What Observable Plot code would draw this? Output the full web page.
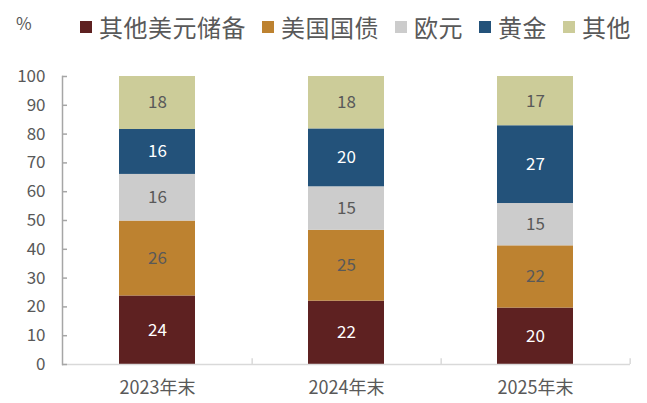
<!DOCTYPE html>
<html>
<head>
<meta charset="utf-8">
<script src="https://cdn.jsdelivr.net/npm/d3@7"></script>
<script src="https://cdn.jsdelivr.net/npm/@observablehq/plot@0.6"></script>
<style>
  html, body { margin: 0; padding: 0; background: #fff; }
  body { width: 647px; height: 403px; overflow: hidden; font-family: "Noto Sans CJK SC", "Noto Sans", sans-serif; }
  #head { position: relative; height: 45px; }
  #pct { position: absolute; left: 16px; top: 10px; font-size: 17px; color: #595959; }
  #legend { position: absolute; left: 80px; top: 12px; display: flex; align-items: center; color: #595959; font-size: 24px; line-height: 30px; }
  .item { display: flex; align-items: center; margin-right: 16px; }
  .sw { width: 12px; height: 12px; margin-right: 7px; }
</style>
</head>
<body>
<div id="head"><div id="pct">%</div><div id="legend"></div></div>
<div id="chart"></div>
<script>
const categories = ["2023年末", "2024年末", "2025年末"];
const seriesNames = ["其他美元储备", "美国国债", "欧元", "黄金", "其他"];
const seriesColors = ["#5E2121", "#BD8230", "#CCCCCC", "#23527A", "#CCCC99"];
const otherUSD = [23.8, 22.0, 19.6];
const usTreasury = [26.0, 24.6, 21.6];
const euro = [16.2, 15.1, 14.7];
const gold = [15.6, 20.1, 27.0];
const others = [18.4, 18.2, 17.1];
const yTicks = [0, 10, 20, 30, 40, 50, 60, 70, 80, 90, 100];
const darkSeries = ["其他美元储备", "黄金"];

const seriesValues = [otherUSD, usTreasury, euro, gold, others];
const data = [];
categories.forEach((c, i) => {
  seriesNames.forEach((s, j) => data.push({year: c, series: s, value: seriesValues[j][i]}));
});

const legend = document.getElementById("legend");
seriesNames.forEach((s, j) => {
  const it = document.createElement("div");
  it.className = "item";
  const sw = document.createElement("div");
  sw.className = "sw";
  sw.style.background = seriesColors[j];
  const t = document.createElement("span");
  t.textContent = s;
  t.style.letterSpacing = "0.5px";
  it.appendChild(sw); it.appendChild(t);
  legend.appendChild(it);
});

const W = 647, H = 358, mL = 62, mR = 17;
const step = (W - mL - mR) / categories.length;
const chart = Plot.plot({
  width: W,
  height: H,
  marginTop: 31,
  marginBottom: 39,
  marginLeft: mL,
  marginRight: mR,
  style: {fontFamily: '"Noto Sans CJK SC", "Noto Sans", sans-serif', color: "#595959", background: "#fff"},
  x: {type: "band", domain: categories, paddingInner: 0.6, paddingOuter: 0.3, label: null},
  y: {domain: [0, 100], label: null},
  color: {domain: seriesNames, range: seriesColors},
  marks: [
    Plot.barY(data, {x: "year", y: "value", fill: "series", order: seriesNames}),
    Plot.text(data, Plot.stackY({
      x: "year", y: "value", z: "series", order: seriesNames,
      text: d => String(Math.round(d.value)),
      fill: d => darkSeries.includes(d.series) ? "#FFFFFF" : "#595959",
      fontSize: 17
    })),
    Plot.ruleY([0], {stroke: "#D9D9D9", strokeWidth: 1.5}),
    Plot.ruleX(categories, {x: d => d, y1: 0, y2: 2, dx: step / 2, stroke: "#D9D9D9", strokeWidth: 1.5}),
    Plot.frame({anchor: "left", stroke: "#A6A6A6", strokeWidth: 1.5}),
    Plot.tickY(yTicks, {y: d => d, stroke: "#A6A6A6", strokeWidth: 1.5, insetRight: W - mL - mR - 5}),
    Plot.axisY({ticks: yTicks, tickSize: 0, tickPadding: 17, fontSize: 17, fill: "#595959", label: null}),
    Plot.axisX({tickSize: 0, tickPadding: 17, fontSize: 18, fill: "#595959", label: null})
  ]
});
document.getElementById("chart").appendChild(chart);
</script>
</body>
</html>
